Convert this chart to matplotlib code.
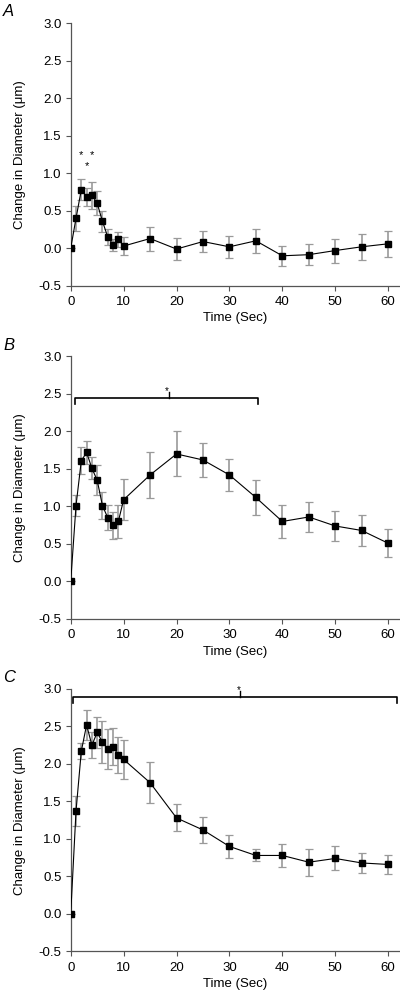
import numpy as np
import matplotlib
matplotlib.use("Agg")
import matplotlib.pyplot as plt

plt.rcParams["font.family"] = ["Liberation Sans", "DejaVu Sans"]

# ── data ──────────────────────────────────────────────────────────────
time = [0, 1, 2, 3, 4, 5, 6, 7, 8, 9, 10, 15, 20, 25, 30, 35, 40, 45, 50, 55, 60]

a_mean = [0.0, 0.40, 0.78, 0.69, 0.71, 0.60, 0.36, 0.15, 0.05, 0.12, 0.03,
          0.13, -0.01, 0.09, 0.02, 0.10, -0.10, -0.085, -0.03, 0.02, 0.06]
a_err = [0.0, 0.17, 0.14, 0.12, 0.18, 0.16, 0.14, 0.11, 0.08, 0.10, 0.12,
         0.16, 0.15, 0.14, 0.15, 0.16, 0.13, 0.14, 0.16, 0.17, 0.17]

b_mean = [0.0, 1.01, 1.61, 1.72, 1.51, 1.35, 1.01, 0.85, 0.75, 0.80, 1.09,
          1.42, 1.70, 1.62, 1.42, 1.12, 0.80, 0.86, 0.74, 0.68, 0.51]
b_err = [0.0, 0.14, 0.18, 0.15, 0.15, 0.20, 0.18, 0.17, 0.18, 0.22, 0.27,
         0.31, 0.30, 0.23, 0.21, 0.23, 0.22, 0.20, 0.20, 0.21, 0.19]

c_mean = [0.0, 1.37, 2.17, 2.52, 2.25, 2.42, 2.29, 2.20, 2.23, 2.12, 2.06,
          1.75, 1.28, 1.12, 0.90, 0.78, 0.78, 0.69, 0.74, 0.68, 0.66]
c_err = [0.0, 0.20, 0.11, 0.20, 0.17, 0.21, 0.28, 0.27, 0.25, 0.24, 0.26,
         0.27, 0.18, 0.17, 0.15, 0.08, 0.15, 0.18, 0.16, 0.13, 0.13]

# significance marks
a_star_t = [2, 3, 4]
a_star_y = [1.24, 1.09, 1.24]
b_bracket = (0.8, 35.4, 2.44)   # start, end, height
b_star_t = 18.5
c_bracket = (0.4, 61.6, 2.89)
c_star_t = 32.0

panels = [("A", a_mean, a_err), ("B", b_mean, b_err), ("C", c_mean, c_err)]
bottoms = [0.7116, 0.3754, 0.0399]
letter_y = [12, 345, 677]

fig = plt.figure(figsize=(4.0, 9.91), dpi=100)
axes = []
for (letter, mean, err), bot, ly in zip(panels, bottoms, letter_y):
    ax = fig.add_axes([0.1768, bot, 0.82, 0.2649])
    line, caps, bars = ax.errorbar(time, mean, yerr=err, color="black", lw=0.8,
                                   marker="s", ms=5, mfc="black", mec="black",
                                   ecolor="#9a9a9a", elinewidth=1.2, capsize=2.8,
                                   capthick=0.9, zorder=3)
    for c in caps:
        c.set_color("#444444")
    ax.set_xlim(0, 62)
    ax.set_ylim(-0.5, 3.0)
    ax.set_xticks(range(0, 61, 10))
    ax.set_yticks(np.arange(-0.5, 3.01, 0.5))
    ax.yaxis.set_major_formatter(matplotlib.ticker.FormatStrFormatter("%.1f"))
    for s in ("top", "right"):
        ax.spines[s].set_visible(False)
    for s in ("left", "bottom"):
        ax.spines[s].set_color("#555555")
        ax.spines[s].set_linewidth(0.9)
    ax.tick_params(direction="out", length=3.5, width=0.8, color="#555555",
                   labelsize=9.5, pad=3)
    ax.tick_params(axis="x", pad=4)
    ax.set_xlabel("Time (Sec)", fontsize=9.5, labelpad=3)
    ax.set_ylabel("Change in Diameter (\u03bcm)", fontsize=9.5)
    ax.yaxis.set_label_coords(-0.135, 0.5)
    fig.text(0.008, 1 - ly / 991, letter, fontsize=12, style="italic",
             ha="left", va="center")
    axes.append(ax)

ax_a, ax_b, ax_c = axes

# panel A stars
for t, y in zip(a_star_t, a_star_y):
    ax_a.text(t, y, "*", ha="center", va="center", fontsize=8)

# brackets
def bracket(ax, x0, x1, y, star_x):
    ax.plot([x0, x0, x1, x1], [y - 0.08, y, y, y - 0.08], color="black",
            lw=1.2, clip_on=False, zorder=4)
    ax.plot([star_x, star_x], [y, y + 0.08], color="black", lw=1.0,
            clip_on=False)
    ax.text(star_x - 0.3, y + 0.1, "*", ha="center", va="center", fontsize=7)

bracket(ax_b, b_bracket[0], b_bracket[1], b_bracket[2], b_star_t)
bracket(ax_c, c_bracket[0], c_bracket[1], c_bracket[2], c_star_t)

fig.savefig("out.png", dpi=100)
